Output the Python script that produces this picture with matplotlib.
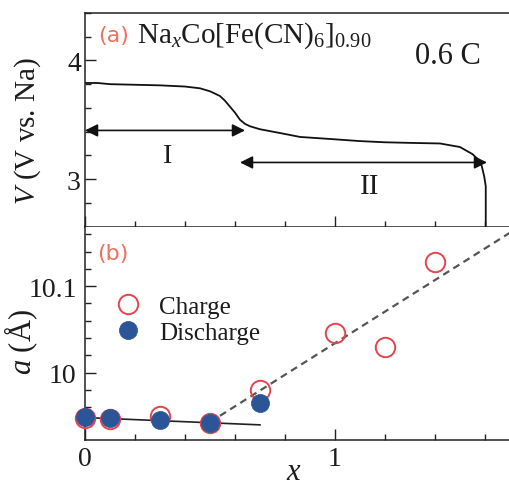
import matplotlib
matplotlib.use("Agg")
import matplotlib.pyplot as plt
from matplotlib.ticker import MultipleLocator, FixedLocator, FuncFormatter

plt.rcParams['font.family'] = ['Liberation Serif', 'DejaVu Serif']
plt.rcParams['mathtext.fontset'] = 'custom'
plt.rcParams['mathtext.rm'] = 'Liberation Serif'
plt.rcParams['mathtext.it'] = 'Liberation Serif:italic'
plt.rcParams['mathtext.bf'] = 'Liberation Serif:bold'

# ---- data: panel (a) discharge curve ----
x_curve = [0.0, 0.05, 0.1, 0.2, 0.3, 0.4, 0.46, 0.5, 0.54, 0.56, 0.58, 0.60, 0.62,
           0.64, 0.66, 0.70, 0.8, 0.86, 1.0, 1.1, 1.2, 1.3, 1.42, 1.5, 1.55, 1.57,
           1.587, 1.597, 1.603, 1.603]
v_curve = [3.81, 3.81, 3.80, 3.795, 3.79, 3.78, 3.765, 3.74, 3.70, 3.66, 3.61, 3.56, 3.50,
           3.465, 3.445, 3.42, 3.38, 3.355, 3.335, 3.32, 3.31, 3.305, 3.30, 3.27, 3.21, 3.17,
           3.11, 3.02, 2.94, 2.60]

region_I = [0.0, 0.64]
region_I_v = 3.41
region_II = [0.62, 1.608]
region_II_v = 3.14

# ---- data: panel (b) lattice constant ----
x_charge = [0.0, 0.1, 0.3, 0.5, 0.7, 1.0, 1.2, 1.4]
a_charge = [9.948, 9.946, 9.950, 9.9415, 9.980, 10.046, 10.030, 10.128]
x_discharge = [0.0, 0.1, 0.3, 0.5, 0.7]
a_discharge = [9.949, 9.948, 9.945, 9.942, 9.965]
fit_solid_x = [0.0, 0.7]
fit_solid_a = [9.948, 9.9395]
fit_dash_x = [0.54, 1.75]
fit_dash_a = [9.950, 10.171]

RED = '#e8424f'
BLUE = '#2b5597'
LABEL_RED = '#f0705c'
TXT = '#1c1c1c'

fig = plt.figure(figsize=(5.09, 4.89), dpi=100)
L = 85 / 509
W = (525 - 85) / 509
XMAX = (525 - 85) / 250
ax1 = fig.add_axes([L, 1 - 227.5 / 489, W, (227.5 - 14) / 489])
ax2 = fig.add_axes([L, 1 - 441 / 489, W, (441 - 227.5) / 489])

for ax in (ax1, ax2):
    ax.set_xlim(0, XMAX)
    for s in ax.spines.values():
        s.set_linewidth(1.1)
        s.set_color('#222222')
    ax.spines['right'].set_visible(False)
    ax.xaxis.set_major_locator(FixedLocator([0, 1]))
    ax.xaxis.set_minor_locator(MultipleLocator(0.2))
    ax.tick_params(which='both', direction='in', top=False, right=False,
                   labelsize=20, colors='#222222', labelcolor=TXT, width=1.0)
    ax.tick_params(which='major', length=8, pad=4)
    ax.tick_params(which='minor', length=4.5)

# panel (a)
ax1.plot(x_curve, v_curve, color='#111111', lw=1.3)
ax1.set_ylim(2.6, 4.4)
ax1.yaxis.set_major_locator(FixedLocator([3, 4]))
ax1.yaxis.set_minor_locator(MultipleLocator(0.2))
ax1.tick_params(axis='x', labelbottom=False)
ax1.tick_params(axis='y', pad=3)
ax1.spines['top'].set_visible(True)
ax1.set_ylabel('$V$ (V vs. Na)', fontsize=21, color=TXT)
ax1.yaxis.set_label_coords(-0.095, 0.45)

arrow_kw = dict(arrowstyle='<|-|>', color='#111111', lw=1.2, mutation_scale=19,
                shrinkA=0, shrinkB=0)
ax1.annotate('', xy=(region_I[1], region_I_v), xytext=(region_I[0], region_I_v),
             arrowprops=arrow_kw)
ax1.annotate('', xy=(region_II[1], region_II_v), xytext=(region_II[0], region_II_v),
             arrowprops=arrow_kw)
ax1.text(0.33, 3.2, 'I', fontsize=20, color=TXT, ha='center', va='center')
ax1.text(1.14, 2.94, 'II', fontsize=21, color=TXT, ha='center', va='center')
ax1.text(0.052, 4.16, '(a)', fontsize=16, color=LABEL_RED, family='DejaVu Sans',
         ha='left', va='baseline')
ax1.text(0.208, 4.16, 'Na$_x$Co[Fe(CN)$_6$]$_{0.90}$', fontsize=21, color=TXT,
         ha='left', va='baseline')
ax1.text(1.32, 3.98, '0.6 C', fontsize=22, color=TXT, ha='left', va='baseline')

# panel (b)
ax2.plot(fit_solid_x, fit_solid_a, color='#222222', lw=1.2, zorder=2)
ax2.plot(fit_dash_x, fit_dash_a, color='#555555', lw=1.6, ls=(0, (3.2, 2.2)), zorder=2)
ax2.plot(x_charge, a_charge, 'o', ms=14, mfc='none', mec=RED, mew=1.4,
         label='Charge', zorder=3, clip_on=False)
ax2.plot(x_discharge, a_discharge, 'o', ms=13, mfc=BLUE, mec=BLUE, mew=0.5,
         label='Discharge', zorder=4, clip_on=False)
ax2.set_ylim(9.922, 10.169)
ax2.yaxis.set_major_locator(FixedLocator([10.0, 10.1]))
ax2.yaxis.set_minor_locator(MultipleLocator(0.02))
ax2.yaxis.set_major_formatter(FuncFormatter(
    lambda v, p: '10' if abs(v - 10) < 1e-6 else '10.1'))
ax2.tick_params(axis='y', pad=6)
ax2.spines['top'].set_visible(False)
ax2.set_ylabel('$a$ (Å)', fontsize=22, color=TXT)
ax2.yaxis.set_label_coords(-0.102, 0.461)
ax2.set_xlabel('x', fontsize=22, color=TXT, style='italic', va='baseline')
ax2.xaxis.set_label_coords(0.474, -0.183)
ax2.text(0.11, 10.138, '(b)', fontsize=16, color=LABEL_RED, family='DejaVu Sans',
         ha='center', va='center')
leg = ax2.legend(loc='upper left', bbox_to_anchor=(0.04, 0.725), frameon=False,
                 fontsize=18, handletextpad=0.65, labelspacing=0.15,
                 borderaxespad=0, handlelength=1.2)
for t in leg.get_texts():
    t.set_color(TXT)

fig.savefig('out.png', dpi=100)
